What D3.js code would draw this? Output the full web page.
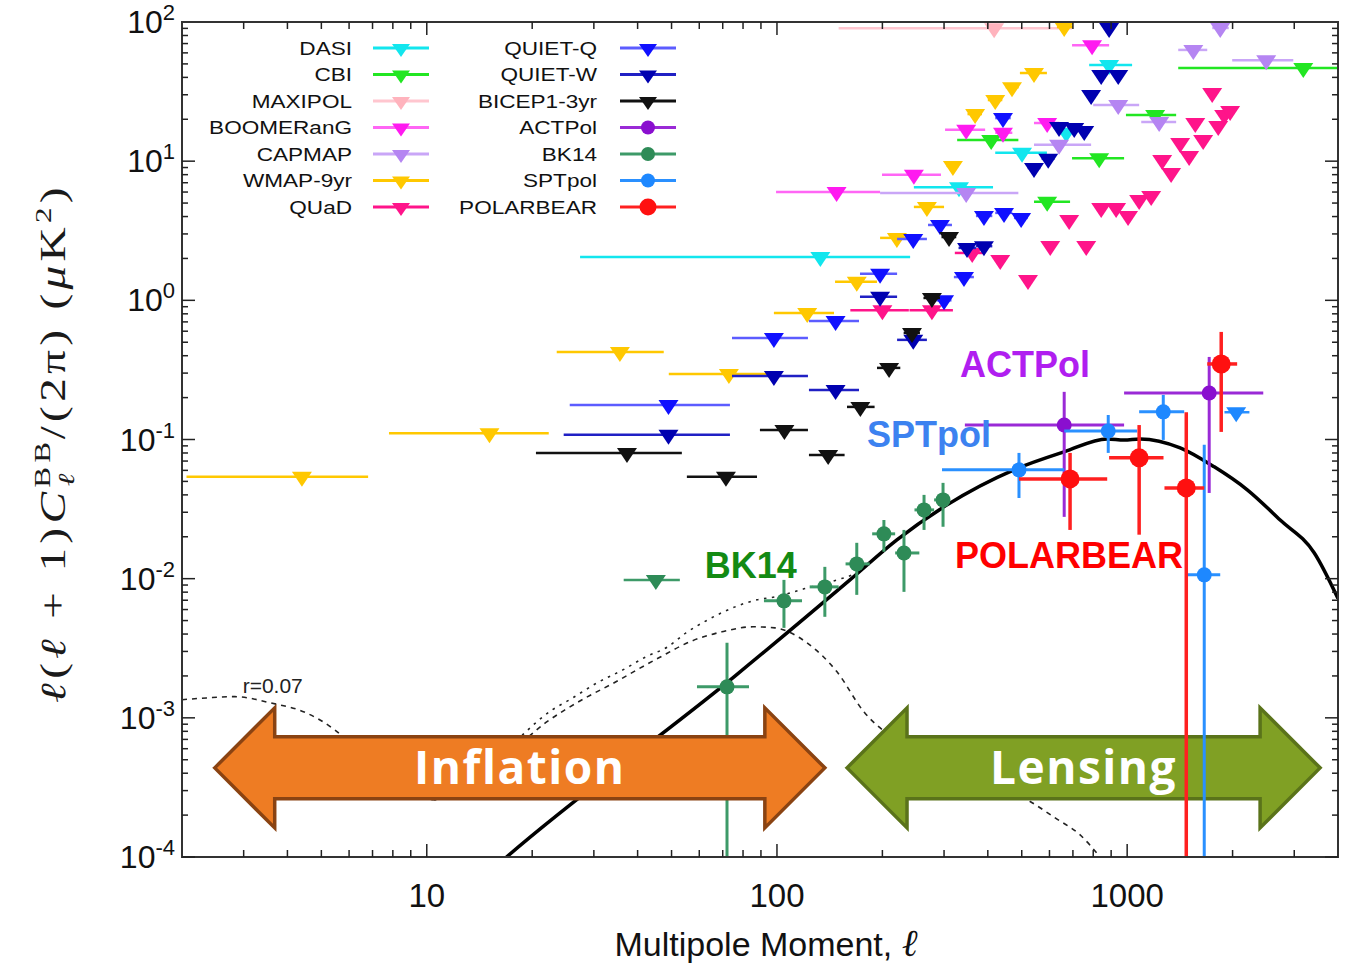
<!DOCTYPE html>
<html>
<head>
<meta charset="utf-8">
<script src="https://cdn.jsdelivr.net/npm/d3@7"></script>
<style>
  body { margin: 0; background: #fff; }
  svg { display: block; }
</style>
</head>
<body>
<div id="app"></div>
<script>
// upper limits: [ell, ellLo, ellHi, D_ell (uK^2)]
const dasiLimits = [
  [133, 27.4, 240, 2.05], [331, 246, 414, 6.5], [501, 420, 590, 11.5],
  [670, 640, 700, 16.0], [888, 779, 1033, 49],
];
const cbiLimits = [
  [409, 327, 489, 14.2], [591, 542, 687, 5.1], [832, 696, 980, 10.5],
  [1202, 992, 1380, 21.5], [3184, 1399, 4100, 46.7],
];
const maxipolLimits = [[417, 150, 696, 90]];
const boomerangLimits = [
  [148, 99.4, 197, 6.0], [246, 199.5, 294, 8.0], [347, 302, 393, 16.8],
  [442, 420, 470, 16.0], [591, 542, 640, 18.8], [794, 696, 888, 68],
];
const capmapLimits = [
  [347, 197, 489, 5.9], [639, 542, 789, 13.1], [943, 800, 1082, 25.3],
  [1234, 1097, 1380, 19.1], [1545, 1399, 1693, 63], [2495, 1995, 2981, 53],
  [1844, 1750, 1950, 90.6],
];
const wmapLimits = [
  [4.4, 2.06, 6.8, 0.054], [15.1, 7.8, 22.3, 0.111], [35.6, 23.5, 47.5, 0.426],
  [72.9, 49.1, 93.6, 0.296], [122, 98, 145.5, 0.81], [169, 146.5, 193, 1.36],
  [220, 197, 235, 2.81], [268, 246, 300, 4.69], [318, 305, 330, 9.25],
  [368, 350, 385, 21.8], [420, 400, 440, 27.5], [469, 450, 490, 34],
  [542, 494, 590, 43], [661, 630, 700, 92],
];
const quadLimits = [
  [200, 162, 238, 0.85], [277, 239, 318, 0.85], [361, 322, 393, 2.19],
  [434, 420, 450, 1.95], [521, 510, 532, 1.40], [603, 590, 615, 2.46],
  [683, 670, 695, 3.78], [764, 750, 778, 2.46], [843, 828, 858, 4.61],
  [930, 915, 945, 4.61], [1006, 990, 1020, 4.04], [1082, 1065, 1100, 5.26],
  [1171, 1150, 1190, 5.62], [1259, 1240, 1280, 10.2], [1335, 1315, 1355, 8.22],
  [1417, 1395, 1440, 13.5], [1503, 1480, 1525, 10.9], [1565, 1540, 1590, 18.8],
  [1648, 1625, 1670, 14.2], [1749, 1725, 1775, 30.9], [1820, 1795, 1845, 17.9],
  [1892, 1865, 1920, 21.5], [1968, 1940, 2000, 22.9],
];
const quietQLimits = [
  [49, 25.6, 73.4, 0.177], [98, 74.4, 122.6, 0.537], [147, 123.4, 171.5, 0.711],
  [197, 172.6, 220.3, 1.55], [245, 220.3, 268, 2.76], [292, 270, 316, 3.48],
  [300, 285, 315, 1.0], [342, 320, 365, 1.47], [390, 370, 412, 4.04],
  [445, 420, 470, 4.25], [498, 475, 520, 3.91], [442, 420, 465, 20.4],
];
const quietWLimits = [
  [49, 24.6, 73.4, 0.108], [98, 74.4, 122.6, 0.286], [147, 123.4, 171.5, 0.227],
  [197, 172.6, 220.3, 1.06], [245, 220.3, 268, 0.52], [349, 330, 370, 2.38],
  [390, 370, 412, 2.45], [542, 520, 565, 8.93], [595, 570, 620, 10.4],
  [639, 615, 665, 17.6], [706, 680, 730, 17.3], [754, 730, 780, 16.5],
  [789, 765, 815, 29.9], [843, 815, 870, 41.6], [943, 915, 970, 41.6],
  [888, 860, 915, 90.6],
];
const bicepLimits = [
  [37.3, 20.5, 53.5, 0.080], [71.5, 55.3, 87.7, 0.054], [105, 89.4, 122.6, 0.117],
  [140, 123.4, 156, 0.0775], [173, 158.5, 190, 0.1715], [209, 193, 225, 0.327],
  [243, 230, 256, 0.583], [277, 262, 292, 1.04], [310, 295, 325, 2.85],
];
const bk14Limits = [[45.1, 36.5, 52.8, 0.0098]];
const sptpolLimits = [[2048, 1896, 2234, 0.157]];

// detections: [ell, ellLo, ellHi, D_ell, dLo, dHi]
const bk14Points = [
  [72, 59.1, 83.2, 0.00167, 1e-5, 0.00346],
  [104.7, 91.8, 117.9, 0.00693, 0.00443, 0.0098],
  [137, 124, 150, 0.00873, 0.00532, 0.01216],
  [169, 157, 184, 0.01277, 0.00765, 0.0181],
  [202, 187, 217.5, 0.021, 0.0156, 0.0264],
  [230.5, 217.5, 255, 0.0153, 0.00804, 0.0224],
  [263, 247, 281, 0.0312, 0.0224, 0.04],
  [298, 281, 311, 0.0368, 0.0236, 0.0488],
];
const sptpolPoints = [
  [491, 296, 661, 0.0605, 0.038, 0.0801],
  [883, 661, 1068, 0.115, 0.0801, 0.15],
  [1268, 1082, 1455, 0.158, 0.0993, 0.209],
  [1660, 1480, 1844, 0.01065, 1e-5, 0.0915],
];
const actpolPoints = [
  [661, 344, 980, 0.127, 0.0278, 0.22],
  [1715, 980, 2447, 0.216, 0.0413, 0.392],
];
const polarbearPoints = [
  [687, 491, 877, 0.0521, 0.0224, 0.0801],
  [1082, 888, 1270, 0.0738, 0.0207, 0.127],
  [1475, 1278, 1660, 0.0449, 1e-5, 0.157],
  [1856, 1693, 2061, 0.349, 0.1134, 0.593],
];

// model curves: [ell, D_ell]
const lensingCurve = [
  [15, 7.7e-5], [16.9, 1e-4], [75.4, 1.97e-3], [161.6, 9.8e-3], [220, 0.019],
  [306, 0.0339], [475, 0.0605], [661, 0.0815], [877, 0.101], [980, 0.099],
  [1089, 0.101], [1417, 0.0871], [1773, 0.0636], [2203, 0.0435],
  [2735, 0.0264], [3423, 0.0153], [4000, 0.0072],
];
const tensorCurve = [
  [2, 1.35e-3], [2.35, 1.39e-3], [2.83, 1.42e-3], [3.58, 1.28e-3], [4.51, 1.09e-3],
  [5.46, 8.2e-4], [6.74, 5.0e-4], [8.21, 3.3e-4], [10.5, 2.58e-4], [13.0, 3.04e-4],
  [15.85, 4.83e-4], [19.05, 6.95e-4], [22.0, 9.35e-4], [24.8, 1.14e-3],
  [28.8, 1.42e-3], [34.2, 1.78e-3], [39.8, 2.21e-3], [46.0, 2.70e-3],
  [56.4, 3.52e-3], [69.6, 4.15e-3], [85.4, 4.51e-3], [98.7, 4.43e-3],
  [121.8, 3.46e-3], [148.4, 2.14e-3], [177.3, 1.10e-3], [220, 6.9e-4],
  [306, 4.6e-4], [425, 3.3e-4], [518, 2.58e-4], [623, 1.91e-4], [734, 1.44e-4],
  [837, 1e-4],
];
const totalCurve = [
  [10.5, 2.58e-4], [13.0, 3.04e-4], [15.85, 4.75e-4], [19.05, 7.8e-4],
  [22.8, 1.14e-3], [25.6, 1.35e-3], [30.6, 1.78e-3], [36.3, 2.21e-3],
  [42.2, 2.74e-3], [48.8, 3.24e-3], [55.0, 4.08e-3], [63.5, 5.06e-3],
  [75.9, 6.27e-3], [87.7, 7.05e-3], [98.7, 7.4e-3], [119.4, 8.45e-3],
  [148.4, 9.8e-3], [166, 0.0108], [180.8, 0.0124],
];

// annotations
const regionNames = ['Inflation', 'Lensing'];
const regionFrom = [2.48, 158.5];
const regionTo = [137, 3556];
const regionLevel = 4.37e-4;
const labelNames = ['ACTPol', 'SPTpol', 'POLARBEAR', 'BK14'];
const labelEll = [333, 180.8, 322.6, 62.2];
const labelLevel = [0.282, 0.0885, 0.01197, 0.01014];
const rLabel = 'r=0.07';
const rLabelAt = [2.98, 1.51e-3];

const xMajorTicks = [10, 100, 1000];
const yMajorTicks = [1e-4, 1e-3, 1e-2, 1e-1, 1, 10, 100];
const yTickExponents = ['-4', '-3', '-2', '-1', '0', '1', '2'];

const width = 1356;
const height = 964;
const plot = {
  left: 182, right: 1338, top: 22, bottom: 857,
};

const experiments = [
  { name: 'DASI', color: '#12e6ee', bar: '#12e6ee', limits: dasiLimits },
  { name: 'CBI', color: '#22e622', bar: '#22e622', limits: cbiLimits },
  { name: 'MAXIPOL', color: '#ffb3bd', bar: '#ffc6cf', limits: maxipolLimits },
  { name: 'BOOMERanG', color: '#ff1af0', bar: '#ff66f5', limits: boomerangLimits },
  { name: 'CAPMAP', color: '#b585f2', bar: '#c9a6f7', limits: capmapLimits },
  { name: 'WMAP-9yr', color: '#ffc800', bar: '#ffc800', limits: wmapLimits },
  { name: 'QUaD', color: '#ff148a', bar: '#ff148a', limits: quadLimits },
  { name: 'QUIET-Q', color: '#1010ff', bar: '#5c5cff', limits: quietQLimits },
  { name: 'QUIET-W', color: '#0000b0', bar: '#2020c4', limits: quietWLimits },
  { name: 'BICEP1-3yr', color: '#111111', bar: '#111111', limits: bicepLimits },
  { name: 'ACTPol', color: '#8a0fcf', bar: '#9a2ad6', points: actpolPoints },
  { name: 'BK14', color: '#2e8b57', bar: '#3d9a68', limits: bk14Limits, points: bk14Points },
  { name: 'SPTpol', color: '#1e88ff', bar: '#2a90ff', limits: sptpolLimits, points: sptpolPoints },
  { name: 'POLARBEAR', color: '#ff1010', bar: '#ff2020', points: polarbearPoints },
];

const x = d3.scaleLog().domain([2, 4000]).range([plot.left, plot.right]);
const y = d3.scaleLog().domain([1e-4, 100]).range([plot.bottom, plot.top]);

const svg = d3.select('#app')
  .append('svg')
  .attr('width', width)
  .attr('height', height);

svg.append('defs')
  .append('clipPath')
  .attr('id', 'clip')
  .append('rect')
  .attr('x', plot.left)
  .attr('y', plot.top)
  .attr('width', plot.right - plot.left)
  .attr('height', plot.bottom - plot.top);

const tri = 'M-10,-5L10,-5L0,10Z';
const line = d3.line().x(d => x(d[0])).y(d => y(d[1])).curve(d3.curveMonotoneX);

// model curves
const curves = svg.append('g').attr('clip-path', 'url(#clip)');
curves.append('path')
  .attr('d', line(tensorCurve))
  .attr('fill', 'none')
  .attr('stroke', '#222')
  .attr('stroke-width', 1.6)
  .attr('stroke-dasharray', '5,5');
curves.append('path')
  .attr('d', line(totalCurve))
  .attr('fill', 'none')
  .attr('stroke', '#222')
  .attr('stroke-width', 1.6)
  .attr('stroke-dasharray', '2.5,5.5');
curves.append('path')
  .attr('d', line(lensingCurve))
  .attr('fill', 'none')
  .attr('stroke', '#000')
  .attr('stroke-width', 3.5);

// double-headed region arrows
function arrowPath(x0, x1, cy) {
  const hl = 60;
  const hh = 60;
  const sh = 31;
  return `M${x0},${cy}L${x0 + hl},${cy - hh}L${x0 + hl},${cy - sh}L${x1 - hl},${cy - sh}`
    + `L${x1 - hl},${cy - hh}L${x1},${cy}L${x1 - hl},${cy + hh}L${x1 - hl},${cy + sh}`
    + `L${x0 + hl},${cy + sh}L${x0 + hl},${cy + hh}Z`;
}
const arrowFill = ['#ee7c23', '#80a024'];
const arrowStroke = ['#8a4312', '#5a731a'];

function drawArrow(i) {
  const g = svg.append('g');
  const cy = y(regionLevel);
  g.append('path')
    .attr('d', arrowPath(x(regionFrom[i]), x(regionTo[i]), cy))
    .attr('fill', arrowFill[i])
    .attr('stroke', arrowStroke[i])
    .attr('stroke-width', 3.5)
    .attr('stroke-linejoin', 'miter');
  g.append('text')
    .attr('x', (x(regionFrom[i]) + x(regionTo[i])) / 2)
    .attr('y', cy + 16)
    .attr('text-anchor', 'middle')
    .attr('font-family', '"Open Sans", "Noto Sans", sans-serif')
    .attr('font-weight', 'bold')
    .attr('font-size', 46)
    .attr('letter-spacing', 1.5)
    .attr('fill', '#fff')
    .text(regionNames[i]);
}

drawArrow(1);

// upper limits and detections
const marks = svg.append('g').attr('clip-path', 'url(#clip)');
experiments.forEach((exp) => {
  const g = marks.append('g');
  if (exp.limits) {
    g.selectAll('line.lim')
      .data(exp.limits)
      .enter()
      .append('line')
      .attr('x1', d => x(d[1]))
      .attr('x2', d => x(d[2]))
      .attr('y1', d => y(d[3]))
      .attr('y2', d => y(d[3]))
      .attr('stroke', exp.bar)
      .attr('stroke-width', 2.5);
    g.selectAll('path.lim')
      .data(exp.limits)
      .enter()
      .append('path')
      .attr('d', tri)
      .attr('transform', d => `translate(${x(d[0])},${y(d[3])})`)
      .attr('fill', exp.color);
  }
  if (exp.points) {
    const big = exp.name === 'POLARBEAR';
    g.selectAll('line.h')
      .data(exp.points)
      .enter()
      .append('line')
      .attr('x1', d => x(d[1]))
      .attr('x2', d => x(d[2]))
      .attr('y1', d => y(d[3]))
      .attr('y2', d => y(d[3]))
      .attr('stroke', exp.bar)
      .attr('stroke-width', big ? 3.5 : 3);
    g.selectAll('line.v')
      .data(exp.points)
      .enter()
      .append('line')
      .attr('x1', d => x(d[0]))
      .attr('x2', d => x(d[0]))
      .attr('y1', d => y(d[4]))
      .attr('y2', d => y(d[5]))
      .attr('stroke', exp.bar)
      .attr('stroke-width', big ? 3.5 : 3);
    g.selectAll('circle')
      .data(exp.points)
      .enter()
      .append('circle')
      .attr('cx', d => x(d[0]))
      .attr('cy', d => y(d[3]))
      .attr('r', big ? 9.5 : 7.5)
      .attr('fill', exp.color);
  }
});

drawArrow(0);

// experiment labels
const labelColors = ['#b01ef0', '#3c82f0', '#ff0000', '#138a13'];
svg.append('g')
  .selectAll('text')
  .data(labelNames)
  .enter()
  .append('text')
  .attr('x', (d, i) => x(labelEll[i]))
  .attr('y', (d, i) => y(labelLevel[i]))
  .attr('font-family', '"Liberation Sans", Arial, sans-serif')
  .attr('font-weight', 'bold')
  .attr('font-size', 36)
  .attr('fill', (d, i) => labelColors[i])
  .text(d => d);

svg.append('text')
  .attr('x', x(rLabelAt[0]))
  .attr('y', y(rLabelAt[1]))
  .attr('font-family', '"Liberation Sans", Arial, sans-serif')
  .attr('font-size', 21)
  .attr('fill', '#222')
  .text(rLabel);

// frame and ticks
svg.append('rect')
  .attr('x', plot.left)
  .attr('y', plot.top)
  .attr('width', plot.right - plot.left)
  .attr('height', plot.bottom - plot.top)
  .attr('fill', 'none')
  .attr('stroke', '#333')
  .attr('stroke-width', 2);

const xTicks = [];
[1, 10, 100, 1000].forEach((dec) => {
  d3.range(1, 10).forEach((k) => {
    const v = k * dec;
    if (v > 2 && v < 4000) xTicks.push({ v, major: k === 1 });
  });
});
const yTicks = [];
[1e-4, 1e-3, 1e-2, 1e-1, 1, 10].forEach((dec) => {
  d3.range(1, 10).forEach((k) => {
    yTicks.push({ v: k * dec, major: k === 1 });
  });
});

const ticks = svg.append('g').attr('stroke', '#222').attr('stroke-width', 1.5);
xTicks.forEach((t) => {
  const len = t.major ? 13 : 7;
  ticks.append('line').attr('x1', x(t.v)).attr('x2', x(t.v))
    .attr('y1', plot.bottom).attr('y2', plot.bottom - len);
  ticks.append('line').attr('x1', x(t.v)).attr('x2', x(t.v))
    .attr('y1', plot.top).attr('y2', plot.top + len);
});
yTicks.forEach((t) => {
  const len = t.major ? 13 : 6;
  ticks.append('line').attr('y1', y(t.v)).attr('y2', y(t.v))
    .attr('x1', plot.left).attr('x2', plot.left + len);
  ticks.append('line').attr('y1', y(t.v)).attr('y2', y(t.v))
    .attr('x1', plot.right).attr('x2', plot.right - len);
});

svg.append('g')
  .selectAll('text')
  .data(xMajorTicks)
  .enter()
  .append('text')
  .attr('x', d => x(d))
  .attr('y', 907)
  .attr('text-anchor', 'middle')
  .attr('font-family', '"Liberation Sans", Arial, sans-serif')
  .attr('font-size', 33)
  .attr('fill', '#111')
  .text(d => d);

const yLabels = svg.append('g')
  .selectAll('text')
  .data(yMajorTicks)
  .enter()
  .append('text')
  .attr('x', 175)
  .attr('y', d => y(d) + 11)
  .attr('text-anchor', 'end')
  .attr('font-family', '"Liberation Sans", Arial, sans-serif')
  .attr('font-size', 32)
  .attr('fill', '#111');
yLabels.append('tspan').text('10');
yLabels.append('tspan')
  .attr('dy', -13)
  .attr('font-size', 22)
  .text((d, i) => yTickExponents[i]);

// axis titles
const xTitle = svg.append('text')
  .attr('x', 766)
  .attr('y', 956)
  .attr('text-anchor', 'middle')
  .attr('font-family', '"Liberation Sans", Arial, sans-serif')
  .attr('font-size', 34)
  .attr('fill', '#111');
xTitle.append('tspan').text('Multipole Moment, ');
xTitle.append('tspan')
  .attr('font-family', '"DejaVu Serif", serif')
  .attr('font-style', 'italic')
  .attr('font-size', 38)
  .text('ℓ');

// y title is stretched along its length like the original figure
const yTitle = svg.append('text')
  .attr('transform', 'translate(65,443) rotate(-90) scale(1.35,1)')
  .attr('text-anchor', 'middle')
  .attr('font-family', '"Liberation Serif", "DejaVu Serif", serif')
  .attr('font-size', 35)
  .attr('letter-spacing', 3.2)
  .attr('fill', '#1a1a1a');
yTitle.append('tspan').attr('font-style', 'italic').text('ℓ');
yTitle.append('tspan').text('(');
yTitle.append('tspan').attr('font-style', 'italic').text('ℓ');
yTitle.append('tspan').text(' + 1)');
yTitle.append('tspan').attr('font-style', 'italic').text('C');
yTitle.append('tspan').attr('dy', -15).attr('font-size', 23).text('BB');
yTitle.append('tspan').attr('dx', -36).attr('dy', 24).attr('font-size', 23)
  .attr('font-style', 'italic')
  .text('ℓ');
yTitle.append('tspan').attr('dx', 22).attr('dy', -9).text('/(2π)  (');
yTitle.append('tspan').attr('font-style', 'italic').text('μ');
yTitle.append('tspan').text('K');
yTitle.append('tspan').attr('dy', -14).attr('font-size', 23).text('2');
yTitle.append('tspan').attr('dy', 14).text(')');

// legend
const legend = svg.append('g');
const legendRows = [48, 74.5, 101, 127.5, 154, 180.5, 207];
experiments.forEach((exp, i) => {
  const col = i < 7 ? 0 : 1;
  const row = i % 7;
  const labelX = col === 0 ? 352 : 597;
  const markX = col === 0 ? 401 : 648;
  const cy = legendRows[row];
  const g = legend.append('g');
  g.append('text')
    .attr('transform', `translate(${labelX},${cy + 6.5}) scale(1.22,1)`)
    .attr('text-anchor', 'end')
    .attr('font-family', '"Liberation Sans", Arial, sans-serif')
    .attr('font-size', 18.5)
    .attr('fill', '#111')
    .text(exp.name);
  g.append('line')
    .attr('x1', markX - 28)
    .attr('x2', markX + 28)
    .attr('y1', cy)
    .attr('y2', cy)
    .attr('stroke', exp.bar)
    .attr('stroke-width', 3);
  if (exp.points) {
    g.append('circle')
      .attr('cx', markX)
      .attr('cy', cy)
      .attr('r', exp.name === 'POLARBEAR' ? 8.5 : 7)
      .attr('fill', exp.color);
  } else {
    g.append('path')
      .attr('d', 'M-9,-4L9,-4L0,9Z')
      .attr('transform', `translate(${markX},${cy})`)
      .attr('fill', exp.color);
  }
});
</script>
</body>
</html>
